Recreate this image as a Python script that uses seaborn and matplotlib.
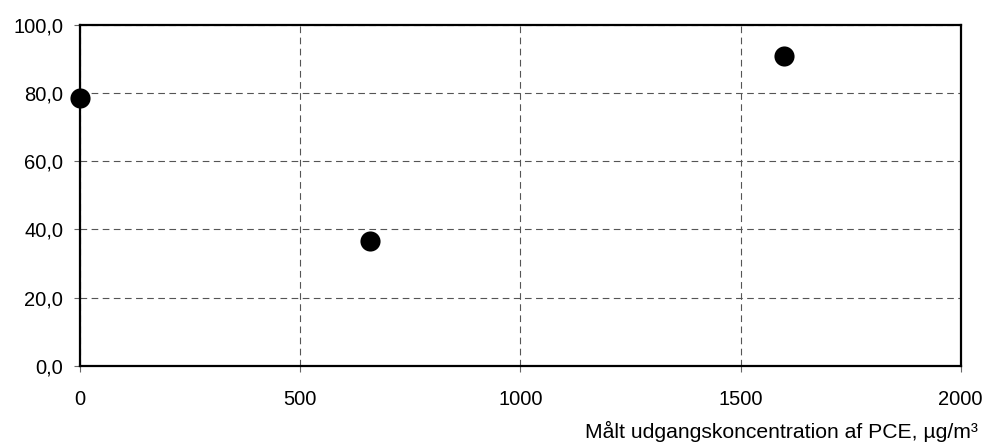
import matplotlib
matplotlib.use("Agg")
import matplotlib.pyplot as plt
import seaborn as sns
import pandas as pd
from matplotlib.ticker import FuncFormatter

# Measured inlet concentration of PCE and corresponding values
concentration = [0, 658, 1598]
values = [78.7, 36.6, 91.0]

x_ticks = [0, 500, 1000, 1500, 2000]
y_ticks = [0, 20, 40, 60, 80, 100]
x_label = "Målt udgangskoncentration af PCE, µg/m³"

sns.set_theme(style="white")
plt.rcParams["font.family"] = ["Liberation Sans", "DejaVu Sans"]

df = pd.DataFrame({"conc": concentration, "val": values})

fig = plt.figure(figsize=(9.86, 4.42), dpi=100)
ax = fig.add_axes([0.0814, 0.1726, 0.8929, 0.7708])

ax.set_axisbelow(True)
ax.grid(True, color="#555555", linestyle=(0, (6, 4)), linewidth=0.8)

sns.scatterplot(data=df, x="conc", y="val", ax=ax, s=210, color="black",
                edgecolor="black", linewidth=0, clip_on=False, zorder=5)

ax.set_xlim(0, 2000)
ax.set_ylim(0, 100)
ax.set_xticks(x_ticks)
ax.set_yticks(y_ticks)
ax.yaxis.set_major_formatter(FuncFormatter(lambda v, p: f"{v:.1f}".replace(".", ",")))
ax.xaxis.set_major_formatter(FuncFormatter(lambda v, p: f"{v:.0f}"))

for side in ["left", "right", "top", "bottom"]:
    ax.spines[side].set_color("black")
    ax.spines[side].set_linewidth(1.6)

ax.tick_params(axis="both", which="major", direction="out", length=4.3, width=0.8,
               color="#666666", labelsize=14.5, labelcolor="black",
               bottom=True, left=True)
ax.tick_params(axis="y", pad=8)
ax.tick_params(axis="x", pad=13)

ax.set_xlabel("")
ax.set_ylabel("")
fig.text(978 / 986, 1 - 437.5 / 442, x_label, fontsize=15.2, ha="right",
         va="baseline", color="black")

fig.savefig("out.png", dpi=100)
